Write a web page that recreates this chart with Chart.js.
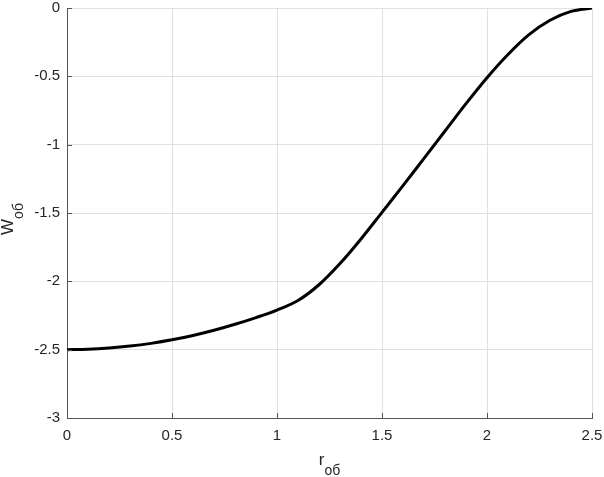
<!DOCTYPE html>
<html>
<head>
<meta charset="utf-8">
<script src="https://cdn.jsdelivr.net/npm/chart.js@4/dist/chart.umd.min.js"></script>
<style>
  html, body { margin: 0; padding: 0; background: #ffffff; }
  #wrap { width: 604px; height: 477px; position: relative; }
</style>
</head>
<body>
<div id="wrap"><canvas id="c" width="604" height="477"></canvas></div>
<script>
// ---- data ----
const rValues = [0, 0.1, 0.2, 0.3, 0.4, 0.5, 0.6, 0.7, 0.8, 0.9, 1.0,
                 1.1, 1.2, 1.3, 1.4, 1.5, 1.6, 1.7, 1.8, 1.9, 2.0,
                 2.1, 2.2, 2.3, 2.4, 2.5];
const wValues = [-2.5, -2.497, -2.488, -2.474, -2.454, -2.428, -2.396, -2.358, -2.314, -2.265, -2.21,
                 -2.14, -2.025, -1.87, -1.69, -1.495, -1.30, -1.10, -0.90, -0.70, -0.51,
                 -0.34, -0.195, -0.09, -0.025, 0];
const xTickValues = [0, 0.5, 1, 1.5, 2, 2.5];
const xTickLabels = ['0', '0.5', '1', '1.5', '2', '2.5'];
const yTickValues = [-3, -2.5, -2, -1.5, -1, -0.5, 0];
const yTickLabels = ['-3', '-2.5', '-2', '-1.5', '-1', '-0.5', '0'];
const xTitleMain = 'r', xTitleSub = 'об';
const yTitleMain = 'W', yTitleSub = 'об';

const FONT = '"Liberation Sans", Arial, Helvetica, sans-serif';
const TEXT_COLOR = '#262626';
const AXIS_COLOR = '#555555';
const GRID_COLOR = '#e0e0e0';

function labelFor(values, labels, v) {
  for (let i = 0; i < values.length; i++) {
    if (Math.abs(values[i] - v) < 1e-9) return labels[i];
  }
  return '';
}

const extrasPlugin = {
  id: 'extras',
  afterDraw(chart) {
    const ctx = chart.ctx;
    const xs = chart.scales.x, ys = chart.scales.y;
    const area = chart.chartArea;
    ctx.save();
    // inward tick marks
    ctx.strokeStyle = AXIS_COLOR;
    ctx.lineWidth = 1;
    ctx.beginPath();
    xTickValues.forEach(v => {
      const px = Math.round(xs.getPixelForValue(v)) + 0.5;
      ctx.moveTo(px, area.bottom);
      ctx.lineTo(px, area.bottom - 5);
    });
    yTickValues.forEach(v => {
      const py = Math.round(ys.getPixelForValue(v)) + 0.5;
      ctx.moveTo(area.left, py);
      ctx.lineTo(area.left + 5, py);
    });
    ctx.stroke();

    // axis titles with subscripts
    ctx.fillStyle = TEXT_COLOR;
    ctx.textBaseline = 'alphabetic';
    ctx.textAlign = 'left';
    const mainFont = '17px ' + FONT;
    const subFont = '14px ' + FONT;

    function drawTitle(main, sub, cx, baseY) {
      ctx.font = mainFont;
      const wm = ctx.measureText(main).width;
      ctx.font = subFont;
      const ws = ctx.measureText(sub).width;
      const x0 = cx - (wm + ws) / 2;
      ctx.font = mainFont;
      ctx.fillText(main, x0, baseY);
      ctx.font = subFont;
      ctx.fillText(sub, x0 + wm, baseY + 10);
    }
    const cxX = (area.left + area.right) / 2;
    drawTitle(xTitleMain, xTitleSub, cxX, 465);

    ctx.save();
    ctx.translate(13, 219);
    ctx.rotate(-Math.PI / 2);
    drawTitle(yTitleMain, yTitleSub, 0, 0);
    ctx.restore();

    ctx.restore();
  }
};

const ctx = document.getElementById('c').getContext('2d');
new Chart(ctx, {
  type: 'line',
  data: {
    datasets: [{
      data: rValues.map((r, i) => ({ x: r, y: wValues[i] })),
      borderColor: '#000000',
      borderWidth: 3,
      pointRadius: 0,
      fill: false,
      cubicInterpolationMode: 'monotone'
    }]
  },
  options: {
    responsive: false,
    animation: false,
    devicePixelRatio: 1,
    layout: { padding: { left: 0, top: 8, right: 12, bottom: 0 } },
    plugins: {
      legend: { display: false },
      tooltip: { enabled: false }
    },
    scales: {
      x: {
        type: 'linear',
        min: 0, max: 2.5,
        afterFit(scale) {
          scale.height = 59;
          scale.paddingLeft = 0; scale.paddingRight = 0;
        },
        afterBuildTicks(scale) { scale.ticks = xTickValues.map(v => ({ value: v })); },
        ticks: {
          padding: 9,
          color: TEXT_COLOR,
          font: { family: FONT, size: 15 },
          maxRotation: 0,
          callback: v => labelFor(xTickValues, xTickLabels, v)
        },
        grid: { color: GRID_COLOR, drawTicks: false, lineWidth: 1 },
        border: { display: true, color: AXIS_COLOR, width: 1 }
      },
      y: {
        type: 'linear',
        min: -3, max: 0,
        afterFit(scale) {
          scale.width = 67;
          scale.paddingTop = 0; scale.paddingBottom = 0;
        },
        afterBuildTicks(scale) { scale.ticks = yTickValues.map(v => ({ value: v })); },
        ticks: {
          padding: 7,
          color: TEXT_COLOR,
          font: { family: FONT, size: 15 },
          callback: v => labelFor(yTickValues, yTickLabels, v)
        },
        grid: { color: GRID_COLOR, drawTicks: false, lineWidth: 1 },
        border: { display: true, color: AXIS_COLOR, width: 1 }
      }
    }
  },
  plugins: [extrasPlugin]
});
</script>
</body>
</html>
